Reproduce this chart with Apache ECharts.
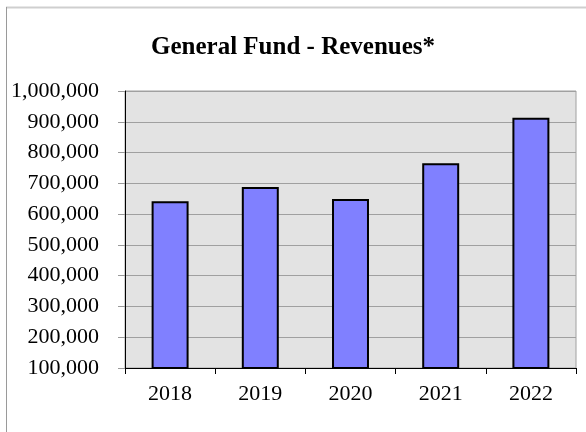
<!DOCTYPE html>
<html>
<head>
<meta charset="utf-8">
<script src="https://cdn.jsdelivr.net/npm/echarts@6/dist/echarts.min.js"></script>
<style>
html,body{margin:0;padding:0;background:#fff;}
#c{width:586px;height:432px;}
</style>
</head>
<body>
<div id="c"></div>
<script>
var titleText = 'General Fund - Revenues*';
var years = ['2018', '2019', '2020', '2021', '2022'];
var revenues = [642000, 688000, 649000, 765000, 913000];
var yMin = 100000, yMax = 1000000, yStep = 100000;

var chart = echarts.init(document.getElementById('c'), null, {renderer: 'canvas'});
var serif = '"Liberation Serif", "Times New Roman", serif';
chart.setOption({
  animation: false,
  backgroundColor: '#ffffff',
  title: {
    text: titleText,
    left: 'center',
    top: 30,
    textStyle: {fontFamily: serif, fontWeight: 'bold', fontSize: 25, color: '#000'}
  },
  graphic: [
    {type: 'line', shape: {x1: 6, y1: 7.5, x2: 600, y2: 7.5}, style: {stroke: '#cfcfcf', lineWidth: 2}},
    {type: 'line', shape: {x1: 6.5, y1: 7, x2: 6.5, y2: 440}, style: {stroke: '#9a9a9a', lineWidth: 1}}
  ],
  grid: {
    left: 125, top: 91, right: 10, bottom: 64,
    show: true, backgroundColor: '#e3e3e3', borderColor: '#a0a0a0', borderWidth: 1
  },
  xAxis: {
    type: 'category',
    data: years,
    boundaryGap: true,
    axisLine: {lineStyle: {color: '#000', width: 1}},
    axisTick: {show: true, length: 6, lineStyle: {color: '#000'}},
    axisLabel: {fontFamily: serif, fontSize: 22, color: '#000', margin: 15}
  },
  yAxis: {
    type: 'value',
    min: yMin, max: yMax, interval: yStep,
    axisLine: {show: true, lineStyle: {color: '#000', width: 1}},
    axisTick: {show: true, length: 7, lineStyle: {color: '#999'}},
    splitLine: {lineStyle: {color: '#a0a0a0', width: 1}},
    axisLabel: {
      fontFamily: serif, fontSize: 22, color: '#000', margin: 26,
      formatter: function (v) { return v.toLocaleString('en-US'); }
    }
  },
  series: [{
    type: 'bar',
    data: revenues,
    barWidth: '41%',
    itemStyle: {color: '#8080ff', borderColor: '#000', borderWidth: 2}
  }]
});
</script>
</body>
</html>
